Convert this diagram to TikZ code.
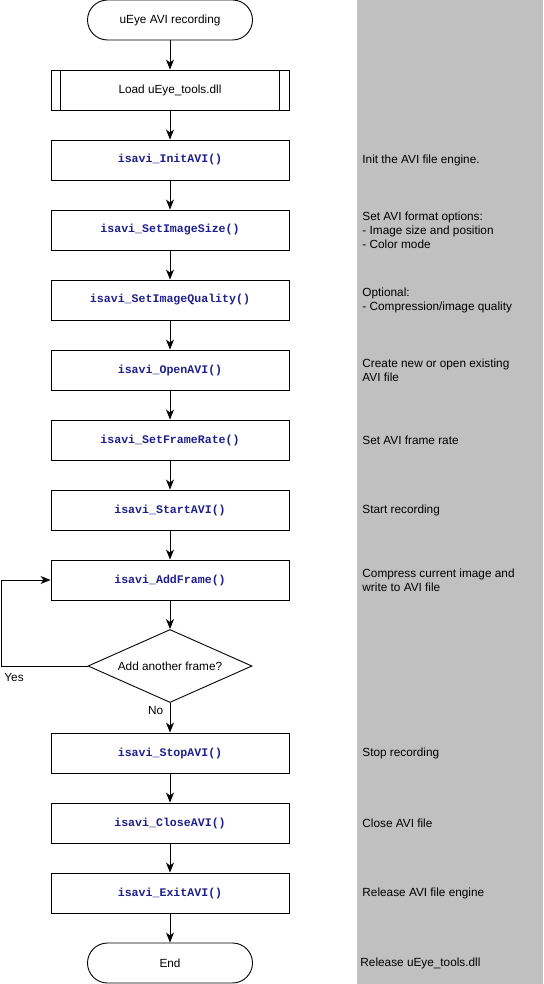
\documentclass[tikz,border=0pt]{standalone}
\usepackage{fontspec}
\setmainfont{Liberation Sans}
\setmonofont{Liberation Mono}
\usepackage{tikz}
\usetikzlibrary{shapes.geometric}
\usetikzlibrary{arrows.meta}
\definecolor{codeblue}{RGB}{30,30,140}
\definecolor{notegray}{RGB}{192,192,192}

\begin{document}
\begin{tikzpicture}[x=1pt, y=-1pt, line width=0.9pt,
        >={Stealth[length=10pt, width=8pt, inset=3pt]},
        every node/.style={font=\fontsize{11.8}{14}\selectfont},
        term/.style={draw, rounded corners=20pt, minimum width=165pt, minimum height=40pt},
        func/.style={draw, minimum width=238pt, minimum height=40pt,
            font=\fontsize{11.6}{14}\selectfont\ttfamily\bfseries, text=codeblue},
        ask/.style={draw, diamond, aspect=2.2, minimum width=164pt, minimum height=73pt, inner sep=0pt},
        note/.style={anchor=west, align=left, inner sep=0pt}]
        \fill[notegray] (357,0) rectangle (543,984);
        \path[use as bounding box] (0,0) rectangle (543,984);

        % flow
        \node[term] (start) at (170,20) {uEye AVI recording};
        \node[draw, minimum width=238pt, minimum height=40pt] (load) at (170,90) {Load uEye\_tools.dll};
        \draw ([xshift=10pt]load.north west) -- ([xshift=10pt]load.south west);
        \draw ([xshift=-10pt]load.north east) -- ([xshift=-10pt]load.south east);
        \node[func] (init) at (170,160) {isavi\_InitAVI()};
        \node[func] (size) at (170,230) {isavi\_SetImageSize()};
        \node[func] (quality) at (170,300) {isavi\_SetImageQuality()};
        \node[func] (open) at (170,370) {isavi\_OpenAVI()};
        \node[func] (rate) at (170,440) {isavi\_SetFrameRate()};
        \node[func] (startavi) at (170,510) {isavi\_StartAVI()};
        \node[func] (add) at (170,580) {isavi\_AddFrame()};
        \node[ask] (more) at (170,666) {Add another frame?};
        \node[func] (stop) at (170,753) {isavi\_StopAVI()};
        \node[func] (close) at (170,823) {isavi\_CloseAVI()};
        \node[func] (exitavi) at (170,893) {isavi\_ExitAVI()};
        \node[term] (end) at (170,963) {End};

        \draw[->] (start) -- (load);
        \draw[->] (load) -- (init);
        \draw[->] (init) -- (size);
        \draw[->] (size) -- (quality);
        \draw[->] (quality) -- (open);
        \draw[->] (open) -- (rate);
        \draw[->] (rate) -- (startavi);
        \draw[->] (startavi) -- (add);
        \draw[->] (add) -- (more);
        \draw[->] (more) -- (stop) node[pos=0.27, left=3pt] {No};
        \draw[->] (stop) -- (close);
        \draw[->] (close) -- (exitavi);
        \draw[->] (exitavi) -- (end);
        \draw[->] (more.west) -- (1,666) node[below right, inner sep=3pt, yshift=-4pt] {Yes} |- (add.west);

        % notes
        \node[note] (initnote) at (362,160) {Init the AVI file engine.};
        \node[note] (sizenote) at (362,230) {Set AVI format options:\\- Image size and position\\- Color mode};
        \node[note] (qualitynote) at (362,300) {Optional:\\- Compression/image quality};
        \node[note] (opennote) at (362,370) {Create new or open existing\\AVI file};
        \node[note] (ratenote) at (362,440) {Set AVI frame rate};
        \node[note] (startnote) at (362,510) {Start recording};
        \node[note] (addnote) at (362,580) {Compress current image and\\write to AVI file};
        \node[note] (stopnote) at (362,753) {Stop recording};
        \node[note] (closenote) at (362,823) {Close AVI file};
        \node[note] (exitnote) at (362,893) {Release AVI file engine};
        \node[note] (endnote) at (360,963) {Release uEye\_tools.dll};
    \end{tikzpicture}
\end{document}
